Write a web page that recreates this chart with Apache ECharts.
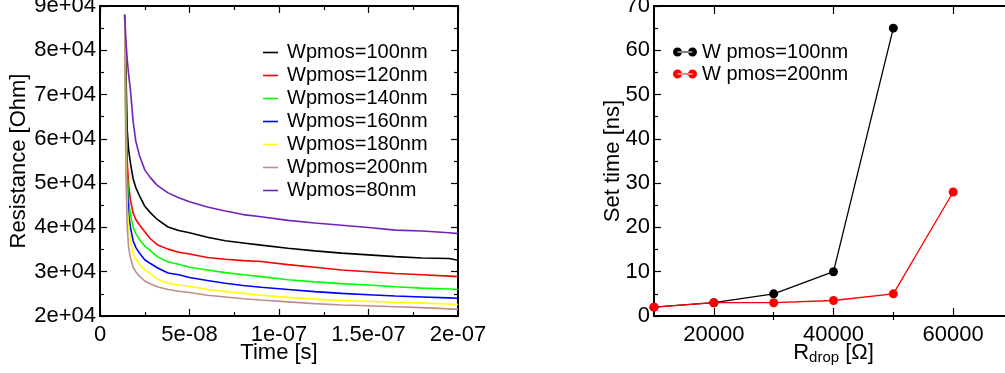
<!DOCTYPE html>
<html>
<head>
<meta charset="utf-8">
<script src="https://cdn.jsdelivr.net/npm/echarts@6/dist/echarts.min.js"></script>
<style>html,body{margin:0;padding:0;background:#fff;}#c{width:1005px;height:373px;}</style>
</head>
<body>
<div id="c"></div>
<script>
// ---- Left panel data: time (s) and resistance (Ohm) ----
const times = [1.38e-8, 1.45e-8, 1.52e-8, 1.6e-8, 1.7e-8, 1.85e-8, 2.0e-8, 2.2e-8, 2.5e-8, 2.8e-8, 3.2e-8, 3.8e-8, 4.4e-8, 5.0e-8, 6.0e-8, 7.0e-8, 8.0e-8, 9.0e-8, 10.5e-8, 12e-8, 13.5e-8, 15e-8, 16.5e-8, 18e-8, 19.5e-8, 20e-8];
const seriesNames = ['Wpmos=100nm', 'Wpmos=120nm', 'Wpmos=140nm', 'Wpmos=160nm', 'Wpmos=180nm', 'Wpmos=200nm', 'Wpmos=80nm'];
const w100 = [88000, 75000, 62000, 57500, 54500, 51000, 49000, 47200, 44800, 43400, 41800, 40100, 39300, 38800, 37800, 37000, 36500, 36000, 35300, 34700, 34200, 33800, 33400, 33100, 33000, 32600];
const w120 = [88000, 70000, 55000, 49500, 46200, 43300, 41800, 40600, 39000, 37500, 36100, 35100, 34400, 34000, 33200, 32800, 32500, 32300, 31600, 31000, 30400, 30000, 29600, 29300, 29000, 28900];
const w140 = [88000, 66000, 52000, 46000, 43000, 40000, 38600, 37300, 35800, 34800, 33400, 32200, 31700, 31000, 30400, 29800, 29300, 28900, 28200, 27700, 27300, 27000, 26600, 26300, 26100, 26000];
const w160 = [88000, 62000, 49000, 43000, 40000, 37000, 35500, 34200, 32700, 31900, 30900, 29700, 29300, 28700, 28000, 27400, 26900, 26500, 26000, 25500, 25100, 24800, 24500, 24300, 24100, 24000];
const w180 = [88000, 58000, 45000, 40000, 37000, 34000, 32800, 31700, 30400, 29600, 28300, 27400, 27000, 26700, 26000, 25500, 25100, 24700, 24200, 23800, 23500, 23300, 23100, 22900, 22700, 22600];
const w200 = [88000, 52000, 40000, 35500, 33200, 31000, 30000, 29000, 27900, 27300, 26600, 26000, 25600, 25300, 24700, 24300, 23900, 23600, 23200, 22800, 22500, 22300, 22100, 21900, 21600, 21500];
const w80  = [88000, 82000, 78000, 74500, 71000, 64000, 59500, 56300, 53000, 51300, 49500, 47800, 46700, 45800, 44600, 43700, 42900, 42400, 41600, 41000, 40500, 40000, 39400, 39200, 38800, 38600];
const leftColors = ['#000000', '#ff0000', '#00ff00', '#0000ff', '#ffff00', '#bc8f8f', '#7221bc'];

// ---- Right panel data: R_drop (Ohm) vs set time (ns) ----
const rdrop100 = [10000, 20000, 30000, 40000, 50000];
const set100 = [2, 3, 5, 10, 65];
const rdrop200 = [10000, 20000, 30000, 40000, 50000, 60000];
const set200 = [2, 3, 3, 3.5, 5, 28];
const rightNames = ['W pmos=100nm', 'W pmos=200nm'];
const rightColors = ['#000000', '#ff0000'];
const rdropMajorTicks = [20000, 40000, 60000];
const rdropMinorTicks = [30000, 50000];

const FONT = '"Liberation Sans", Arial, Helvetica, sans-serif';
function expFmt(v) {
  if (v === 0) return '0';
  const s = Number(v.toPrecision(6)).toExponential();
  return s.replace(/e([+-])(\d)$/, 'e$10$2');
}
function frameAxis(extra) {
  return Object.assign({
    type: 'value',
    nameMoveOverlap: false,
    axisLine: { show: true, onZero: false, lineStyle: { color: '#000', width: 2 } },
    axisTick: { show: true, inside: true, length: 7, lineStyle: { color: '#000', width: 1.2 } },
    minorTick: { show: true, splitNumber: 2, length: 4, lineStyle: { color: '#000', width: 1.2 } },
    splitLine: { show: false },
    minorSplitLine: { show: false },
    axisLabel: { show: false },
    nameTextStyle: { fontSize: 22, color: '#000', fontFamily: FONT }
  }, extra);
}
const labelStyle = { show: true, fontSize: 22, color: '#000', fontFamily: FONT };

const leftData = [w100, w120, w140, w160, w180, w200, w80];
const leftSeries = leftData.map((vals, i) => ({
  name: seriesNames[i],
  type: 'line',
  xAxisIndex: 0, yAxisIndex: 0,
  symbol: 'none',
  smooth: false,
  color: leftColors[i],
  lineStyle: { width: 1.6, color: leftColors[i] },
  data: vals.map((v, k) => [times[k], v]),
  z: i === 6 ? 3 : 2
}));

const rightSeries = [
  { name: rightNames[0], type: 'line', xAxisIndex: 2, yAxisIndex: 2, symbol: 'circle', symbolSize: 9,
    color: rightColors[0], lineStyle: { width: 1.3, color: rightColors[0] },
    data: rdrop100.map((x, k) => [x, set100[k]]) },
  { name: rightNames[1], type: 'line', xAxisIndex: 2, yAxisIndex: 2, symbol: 'circle', symbolSize: 9,
    color: rightColors[1], lineStyle: { width: 1.3, color: rightColors[1] },
    data: rdrop200.map((x, k) => [x, set200[k]]) }
];

const dotIcon = 'path://M0,4.5a4.5,4.5 0 1,0 9,0a4.5,4.5 0 1,0 -9,0z M15,4.5a4.5,4.5 0 1,0 9,0a4.5,4.5 0 1,0 -9,0z M4.5,3.9 L19.5,3.9 L19.5,5.1 L4.5,5.1z';

const option = {
  animation: false,
  backgroundColor: '#fff',
  textStyle: { fontFamily: FONT },
  grid: [
    { left: 100, top: 6, width: 358, height: 310, containLabel: false, outerBoundsMode: 'none' },
    { left: 654, top: 6, width: 359, height: 310, containLabel: false, outerBoundsMode: 'none' }
  ],
  legend: [
    { data: seriesNames, orient: 'vertical', left: 263, top: 42.5, padding: 0, itemGap: 3,
      icon: 'rect', itemWidth: 15, itemHeight: 1.6,
      textStyle: { fontSize: 20, color: '#000', fontFamily: FONT, padding: [0, 0, 0, 4] } },
    { data: rightNames, orient: 'vertical', left: 673, top: 42, padding: 0, itemGap: 2,
      icon: dotIcon, itemWidth: 24, itemHeight: 9,
      textStyle: { fontSize: 20, color: '#000', fontFamily: FONT } }
  ],
  xAxis: [
    frameAxis({ gridIndex: 0, position: 'bottom', min: 0, max: 2e-7, interval: 5e-8,
      axisLabel: Object.assign({}, labelStyle, { margin: 8, formatter: expFmt, showMaxLabel: true, showMinLabel: true }),
      name: 'Time [s]', nameLocation: 'middle', nameGap: 26 }),
    frameAxis({ gridIndex: 0, position: 'top', min: 0, max: 2e-7, interval: 5e-8 }),
    frameAxis({ gridIndex: 1, position: 'bottom', min: 10000, max: 70000, interval: 10000,
      minorTick: { show: false },
      axisTick: { show: true, inside: true, length: 8, customValues: rdropMajorTicks, lineStyle: { color: '#000', width: 1.2 } },
      axisLabel: Object.assign({}, labelStyle, { margin: 8, customValues: rdropMajorTicks, formatter: v => String(v) }),
      name: '{r|R}{s|drop}{r| [Ω]}', nameLocation: 'middle', nameGap: 24,
      nameTextStyle: { color: '#000', fontFamily: FONT,
        rich: { r: { fontSize: 22, color: '#000', fontFamily: FONT },
                s: { fontSize: 15, color: '#000', fontFamily: FONT, padding: [10, 0, 0, 0] } } } }),
    frameAxis({ gridIndex: 1, position: 'bottom', min: 10000, max: 70000, interval: 10000,
      axisLine: { show: false }, minorTick: { show: false },
      axisTick: { show: true, inside: true, length: 4, customValues: rdropMinorTicks, lineStyle: { color: '#000', width: 1.2 } } }),
    frameAxis({ gridIndex: 1, position: 'top', min: 10000, max: 70000, interval: 10000,
      minorTick: { show: false },
      axisTick: { show: true, inside: true, length: 8, customValues: rdropMajorTicks, lineStyle: { color: '#000', width: 1.2 } } }),
    frameAxis({ gridIndex: 1, position: 'top', min: 10000, max: 70000, interval: 10000,
      axisLine: { show: false }, minorTick: { show: false },
      axisTick: { show: true, inside: true, length: 4, customValues: rdropMinorTicks, lineStyle: { color: '#000', width: 1.2 } } })
  ],
  yAxis: [
    frameAxis({ gridIndex: 0, position: 'left', min: 20000, max: 90000, interval: 10000,
      axisLabel: Object.assign({}, labelStyle, { margin: 4, formatter: expFmt }),
      name: 'Resistance [Ohm]', nameLocation: 'middle', nameGap: 70 }),
    frameAxis({ gridIndex: 0, position: 'right', min: 20000, max: 90000, interval: 10000 }),
    frameAxis({ gridIndex: 1, position: 'left', min: 0, max: 70, interval: 10,
      axisLabel: Object.assign({}, labelStyle, { margin: 4 }),
      name: 'Set time [ns]', nameLocation: 'middle', nameGap: 30 }),
    frameAxis({ gridIndex: 1, position: 'right', min: 0, max: 70, interval: 10 })
  ],
  series: leftSeries.concat(rightSeries)
};
const chart = echarts.init(document.getElementById('c'), null, { renderer: 'canvas' });
chart.setOption(option);
</script>
</body>
</html>
